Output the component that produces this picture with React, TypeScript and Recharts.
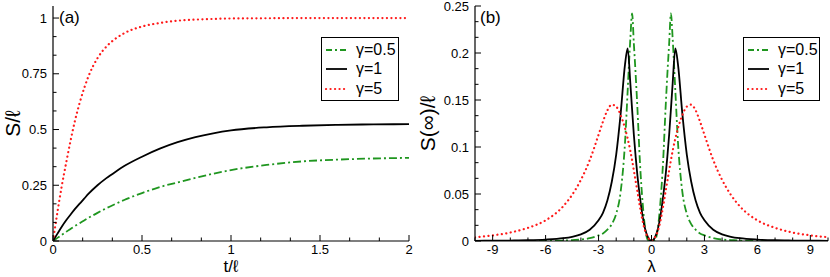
import React from "react";
import { Legend, Line, LineChart, XAxis, YAxis } from "recharts";

// panel (a): S/l against t/l
const tA = [0, 0.025, 0.05, 0.075, 0.1, 0.125, 0.15, 0.175, 0.2, 0.25, 0.3, 0.35, 0.4, 0.5, 0.6, 0.7, 0.8, 0.9, 1.0, 1.2, 1.4, 1.6, 1.8, 2.0];
const aGamma05 = [0, 0.014, 0.028, 0.042, 0.055, 0.068, 0.08, 0.092, 0.104, 0.126, 0.147, 0.166, 0.184, 0.215, 0.242, 0.263, 0.283, 0.302, 0.318, 0.341, 0.357, 0.365, 0.37, 0.373];
const aGamma1 = [0, 0.033, 0.065, 0.094, 0.12, 0.145, 0.168, 0.19, 0.212, 0.25, 0.282, 0.31, 0.336, 0.378, 0.414, 0.443, 0.466, 0.483, 0.496, 0.51, 0.517, 0.521, 0.523, 0.524];
const aGamma5 = [0, 0.13, 0.25, 0.355, 0.455, 0.545, 0.62, 0.685, 0.74, 0.82, 0.872, 0.907, 0.932, 0.962, 0.978, 0.988, 0.993, 0.996, 0.998, 0.999, 1.0, 1.0, 1.0, 1.0];

// panel (b): S(inf)/l against lambda
const lam = [-10, -9, -8, -7, -6, -5, -4.5, -4, -3.5, -3, -2.75, -2.5, -2.25, -2, -1.75, -1.5, -1.35, -1.2, -1.1, -1, -0.9, -0.8, -0.65, -0.5, -0.35, -0.2, 0,
  0.2, 0.35, 0.5, 0.65, 0.8, 0.9, 1, 1.1, 1.2, 1.35, 1.5, 1.75, 2, 2.25, 2.5, 2.75, 3, 3.5, 4, 4.5, 5, 6, 7, 8, 9, 10];
const bGamma05 = [0, 0, 0, 0.0001, 0.0002, 0.0005, 0.001, 0.0015, 0.003, 0.006, 0.008, 0.012, 0.018, 0.029, 0.052, 0.105, 0.16, 0.215, 0.242, 0.21, 0.178, 0.142, 0.082, 0.04, 0.012, 0.001, 0,
  0.001, 0.012, 0.04, 0.082, 0.142, 0.178, 0.21, 0.242, 0.215, 0.16, 0.105, 0.052, 0.029, 0.018, 0.012, 0.008, 0.006, 0.003, 0.0015, 0.001, 0.0005, 0.0002, 0.0001, 0, 0, 0];
const bGamma1 = [0.0002, 0.0003, 0.0005, 0.0008, 0.0015, 0.003, 0.0045, 0.007, 0.012, 0.022, 0.03, 0.043, 0.063, 0.092, 0.135, 0.188, 0.205, 0.168, 0.14, 0.113, 0.09, 0.07, 0.046, 0.026, 0.012, 0.004, 0,
  0.004, 0.012, 0.026, 0.046, 0.07, 0.09, 0.113, 0.14, 0.168, 0.205, 0.188, 0.135, 0.092, 0.063, 0.043, 0.03, 0.022, 0.012, 0.007, 0.0045, 0.003, 0.0015, 0.0008, 0.0005, 0.0003, 0.0002];
const bGamma5 = [0.004, 0.006, 0.009, 0.014, 0.022, 0.037, 0.049, 0.065, 0.086, 0.113, 0.127, 0.139, 0.145, 0.143, 0.134, 0.12, 0.109, 0.096, 0.086, 0.075, 0.064, 0.053, 0.036, 0.021, 0.01, 0.004, 0,
  0.004, 0.01, 0.021, 0.036, 0.053, 0.064, 0.075, 0.086, 0.096, 0.109, 0.12, 0.134, 0.143, 0.145, 0.139, 0.127, 0.113, 0.086, 0.065, 0.049, 0.037, 0.022, 0.014, 0.009, 0.006, 0.004];

const aXTicks = [0, 0.5, 1, 1.5, 2];
const aYTicks = [0, 0.25, 0.5, 0.75, 1];
const bXTicks = [-9, -6, -3, 0, 3, 6, 9];
const bYTicks = [0, 0.05, 0.1, 0.15, 0.2, 0.25];

const seriesNames = ["γ=0.5", "γ=1", "γ=5"];

const FONT = "'Liberation Sans', Arial, Helvetica, sans-serif";
const GREEN = "#1f961f";
const RED = "#ff1a1a";

const styles = [
  { color: GREEN, dash: "8 3 2 3", width: 1.8, cap: "butt" },
  { color: "#000000", dash: undefined, width: 1.8, cap: "butt" },
  { color: RED, dash: "0.1 4.4", width: 2.2, cap: "round" },
];

// majors plus n-1 minor ticks in every gap
function withMinor(lo: number, hi: number, step: number, n: number) {
  const out: number[] = [];
  for (let i = 0; lo + (i * step) / n <= hi + 1e-9; i++) out.push(+(lo + (i * step) / n).toFixed(6));
  return out;
}

const dataA = tA.map((t, i) => ({ t, g05: aGamma05[i], g1: aGamma1[i], g5: aGamma5[i] }));
const dataB = lam.map((l, i) => ({ l, g05: bGamma05[i], g1: bGamma1[i], g5: bGamma5[i] }));

function AxisTick(props: any) {
  const { x, y, payload, side, majors } = props;
  const v = payload.value;
  const major = majors.some((m: number) => Math.abs(m - v) < 1e-6);
  const len = major ? 6 : 3.5;
  let line = null;
  let label = null;
  if (side === "bottom") {
    line = <line x1={x} y1={y} x2={x} y2={y - len} stroke="#000" />;
    if (major) label = <text x={x} y={y + 12.5} textAnchor="middle" fontSize={13} fontFamily={FONT} fill="#000">{String(v)}</text>;
  } else if (side === "top") {
    line = <line x1={x} y1={y} x2={x} y2={y + len} stroke="#000" />;
  } else if (side === "left") {
    line = <line x1={x} y1={y} x2={x + len} y2={y} stroke="#000" />;
    if (major) label = <text x={x - 6} y={y + 4.5} textAnchor="end" fontSize={13} fontFamily={FONT} fill="#000">{String(v)}</text>;
  } else {
    line = <line x1={x} y1={y} x2={x - len} y2={y} stroke="#000" />;
  }
  return <g>{line}{label}</g>;
}

function LegendBox({ width }: { width: number }) {
  return (
    <div style={{ border: "1px solid #000", background: "#fff", width, height: 64, boxSizing: "border-box", fontFamily: FONT, fontSize: 16, paddingTop: 2 }}>
      {seriesNames.map((name, i) => (
        <div key={name} style={{ display: "flex", alignItems: "center", height: 19.5 }}>
          <svg width={30} height={10} style={{ marginLeft: 3 }}>
            <line x1={1} y1={5} x2={22} y2={5} stroke={styles[i].color} strokeWidth={styles[i].width}
              strokeDasharray={i === 0 ? "6 3 2 3" : styles[i].dash} strokeLinecap={styles[i].cap as any} />
          </svg>
          <span style={{ marginLeft: 1, lineHeight: "18px" }}>{name}</span>
        </div>
      ))}
    </div>
  );
}

const axisLine = { stroke: "#000", strokeWidth: 1.2 };

function Panel(props: {
  data: any[]; xKey: string; xDomain: [number, number]; yDomain: [number, number];
  xTicks: number[]; yTicks: number[]; xAll: number[]; yAll: number[];
  yWidth: number; right: number; xTitle: string; yTitle: string;
  legendLeft: number; legendWidth: number;
}) {
  const { data, xKey, xDomain, yDomain, xTicks, yTicks, xAll, yAll, yWidth, right, xTitle, yTitle, legendLeft, legendWidth } = props;
  return (
    <LineChart width={415} height={277} data={data} margin={{ top: 6, right, bottom: 0, left: 0 }}>
      <XAxis xAxisId="b" dataKey={xKey} type="number" domain={xDomain} allowDataOverflow ticks={xAll} interval={0}
        height={36} tickSize={0} tickMargin={0} axisLine={axisLine} tickLine={false}
        tick={<AxisTick side="bottom" majors={xTicks} />}
        label={(p: any) => (
          <text x={p.viewBox.x + p.viewBox.width / 2} y={p.viewBox.y + 31} textAnchor="middle" fontSize={17} fontFamily={FONT}>{xTitle}</text>
        )} />
      <XAxis xAxisId="t" orientation="top" type="number" domain={xDomain} allowDataOverflow ticks={xAll} interval={0}
        height={0} tickSize={0} tickMargin={0} axisLine={axisLine} tickLine={false}
        tick={<AxisTick side="top" majors={xTicks} />} />
      <YAxis yAxisId="l" type="number" domain={yDomain} allowDataOverflow ticks={yAll} interval={0}
        width={yWidth} tickSize={0} tickMargin={0} axisLine={axisLine} tickLine={false}
        tick={<AxisTick side="left" majors={yTicks} />}
        label={(p: any) => {
          const cx = 12;
          const cy = p.viewBox.y + p.viewBox.height / 2;
          return <text x={cx} y={cy} transform={`rotate(-90 ${cx} ${cy})`} textAnchor="middle" dominantBaseline="central" fontSize={21} fontFamily={FONT}>{yTitle}</text>;
        }} />
      <YAxis yAxisId="r" orientation="right" type="number" domain={yDomain} allowDataOverflow ticks={yAll} interval={0}
        width={0} tickSize={0} tickMargin={0} axisLine={axisLine} tickLine={false}
        tick={<AxisTick side="right" majors={yTicks} />} />
      <Legend layout="horizontal" verticalAlign="middle" align="center"
        wrapperStyle={{ left: legendLeft, top: 37, width: legendWidth, height: 64 }}
        content={() => <LegendBox width={legendWidth} />} />
      {styles.map((s, i) => (
        <Line key={i} xAxisId="b" yAxisId="l" type="monotone" dataKey={["g05", "g1", "g5"][i]} name={seriesNames[i]}
          stroke={s.color} strokeWidth={s.width} strokeDasharray={s.dash} strokeLinecap={s.cap as any}
          dot={false} isAnimationActive={false} />
      ))}
    </LineChart>
  );
}

const tagStyle: React.CSSProperties = { position: "absolute", top: 8, fontFamily: FONT, fontSize: 17, lineHeight: "20px" };

export default function App() {
  return (
    <div style={{ position: "absolute", left: 0, top: 0, width: 830, height: 277, background: "#fff" }}>
      <div style={{ position: "absolute", left: 0, top: 0 }}>
        <Panel data={dataA} xKey="t" xDomain={[0, 2]} yDomain={[0, 1.054]}
          xTicks={aXTicks} yTicks={aYTicks} xAll={withMinor(0, 2, 0.5, 3)} yAll={withMinor(0, 1, 0.25, 3)}
          yWidth={53} right={6} xTitle="t/ℓ" yTitle="S/ℓ" legendLeft={321} legendWidth={78} />
      </div>
      <div style={{ position: "absolute", left: 415, top: 0 }}>
        <Panel data={dataB} xKey="l" xDomain={[-10, 10]} yDomain={[0, 0.25]}
          xTicks={bXTicks} yTicks={bYTicks} xAll={withMinor(-10, 10, 3, 3)} yAll={withMinor(0, 0.25, 0.05, 3)}
          yWidth={60} right={2} xTitle="λ" yTitle="S(∞)/ℓ" legendLeft={328} legendWidth={77} />
      </div>
      <div style={{ ...tagStyle, left: 59 }}>(a)</div>
      <div style={{ ...tagStyle, left: 480 }}>(b)</div>
    </div>
  );
}
